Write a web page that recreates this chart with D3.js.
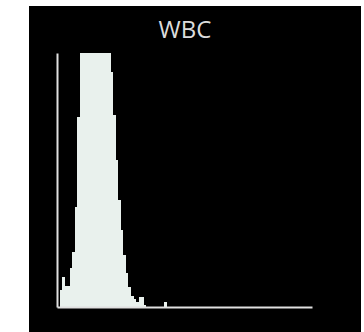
<!DOCTYPE html>
<html>
<head>
<meta charset="utf-8">
<script src="https://cdn.jsdelivr.net/npm/d3@7"></script>
<style>
  html, body { margin: 0; padding: 0; background: #fff; }
  svg { display: block; }
</style>
</head>
<body>
<script>
// WBC histogram, one count per channel (channels 0..99)
var title = 'WBC';
var counts = [
  0, 6.7, 11.8, 8.3, 8.3, 15.4, 21.7, 39.4, 74.8,
  108, 125, 140, 150, 156, 158, 155, 148, 138, 126, 114, 103,
  92.5, 75.6, 57.9, 42.1, 30.3, 20.5, 13.4, 7.9, 4.3, 3.1, 2, 3.9, 3.9, 0.8,
  0, 0, 0, 0, 0, 0, 0, 2, 0
];
var channelCount = 100;
var yMax = 100;

var width = 364, height = 332;
var margin = { left: 57, right: 52, top: 53, bottom: 25 };

var svg = d3.select('body')
  .append('svg')
  .attr('width', width)
  .attr('height', height);

// black panel
svg.append('rect')
  .attr('x', 29)
  .attr('y', 6)
  .attr('width', 332)
  .attr('height', 326)
  .attr('fill', '#000');

var x = d3.scaleLinear()
  .domain([0, channelCount])
  .range([margin.left, width - margin.right]);

var y = d3.scaleLinear()
  .domain([0, yMax])
  .range([height - margin.bottom, margin.top])
  .clamp(true);

// histogram drawn as one stepped area so the channels have no seams
var area = d3.area()
  .curve(d3.curveStepAfter)
  .x(function(d, i) { return x(i); })
  .y0(y(0))
  .y1(function(d) { return y(d); });

svg.append('path')
  .datum(counts)
  .attr('d', area)
  .attr('fill', '#e9f1ed')
  .attr('shape-rendering', 'crispEdges');

// axes: plain lines, no ticks
var xAxis = d3.axisBottom(x).tickValues([]).tickSizeOuter(0);
var yAxis = d3.axisLeft(y).tickValues([]).tickSizeOuter(0);

svg.append('g')
  .attr('transform', 'translate(0,' + y(0) + ')')
  .call(xAxis)
  .select('.domain')
  .attr('stroke', '#e0e0e0')
  .attr('stroke-width', 2);

svg.append('g')
  .attr('transform', 'translate(' + x(0) + ',0)')
  .call(yAxis)
  .select('.domain')
  .attr('stroke', '#e0e0e0')
  .attr('stroke-width', 2);

svg.append('text')
  .attr('x', 185)
  .attr('y', 38)
  .attr('text-anchor', 'middle')
  .attr('fill', '#dcdcdc')
  .style('font-family', '"Open Sans", sans-serif')
  .style('font-size', '24px')
  .text(title);
</script>
</body>
</html>
